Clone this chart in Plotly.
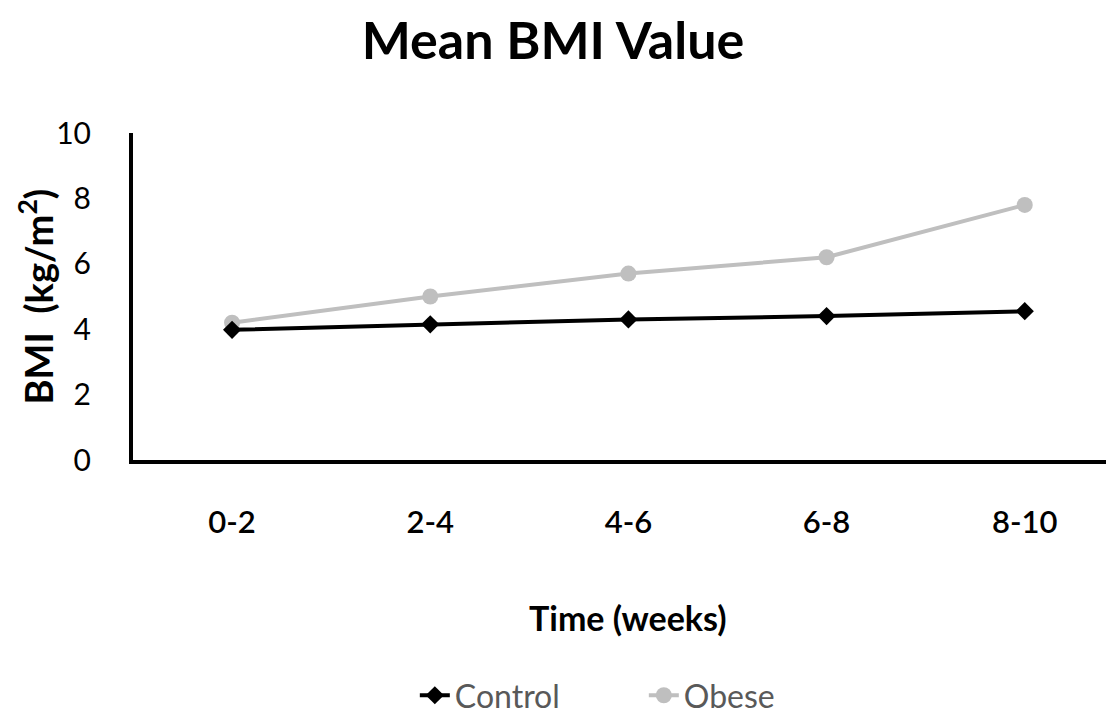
import plotly.graph_objects as go

categories = ["0-2", "2-4", "4-6", "6-8", "8-10"]
control = [3.98, 4.15, 4.3, 4.4, 4.55]
obese = [4.2, 5.0, 5.7, 6.2, 7.8]
y_ticks = [0, 2, 4, 6, 8, 10]

fig = go.Figure()
fig.add_trace(go.Scatter(
    x=categories, y=obese, name="Obese", mode="lines+markers",
    line=dict(color="#BFBFBF", width=4),
    marker=dict(symbol="circle", size=16, color="#BFBFBF"),
))
fig.add_trace(go.Scatter(
    x=categories, y=control, name="Control", mode="lines+markers",
    line=dict(color="black", width=4),
    marker=dict(symbol="diamond", size=14, color="black"),
))

font_family = "Lato, Open Sans, sans-serif"
fig.update_layout(
    width=1106, height=723,
    margin=dict(l=133, r=0, t=133, b=258),
    paper_bgcolor="white", plot_bgcolor="white",
    font=dict(family=font_family, color="black"),
    title=dict(text="<b>Mean BMI Value</b>", x=0.5, xanchor="center",
               y=1 - 41 / 723, yanchor="middle",
               font=dict(size=52, family=font_family, color="black")),
    showlegend=True,
    legend=dict(orientation="h", x=0.525, xanchor="center", y=-0.72, yanchor="middle",
                font=dict(size=32, color="#595959", family=font_family),
                traceorder="reversed", entrywidth=184, entrywidthmode="pixels"),
    xaxis=dict(type="category", range=[-0.5, 4.41], showgrid=False,
               showline=True, linecolor="black", linewidth=4,
               tickfont=dict(size=31, family=font_family, weight=600), ticks="",
               ticklabelstandoff=32, zeroline=False),
    yaxis=dict(range=[0, 10], tickvals=y_ticks, showgrid=False,
               showline=True, linecolor="black", linewidth=4,
               tickfont=dict(size=30, family=font_family), ticks="",
               ticklabelstandoff=32, zeroline=False),
    annotations=[
        dict(text="<b>Time (weeks)</b>", xref="paper", yref="paper",
             x=0.509, y=-160 / 332, xanchor="center", yanchor="middle",
             showarrow=False, font=dict(size=34, family=font_family)),
        dict(text="<b>BMI  (kg/m<sup>2</sup>)</b>", xref="paper", yref="paper",
             x=-97 / 973, y=0.5, xanchor="center", yanchor="middle", textangle=-90,
             showarrow=False, font=dict(size=38, family=font_family)),
    ],
)

fig.write_html("out.html")
